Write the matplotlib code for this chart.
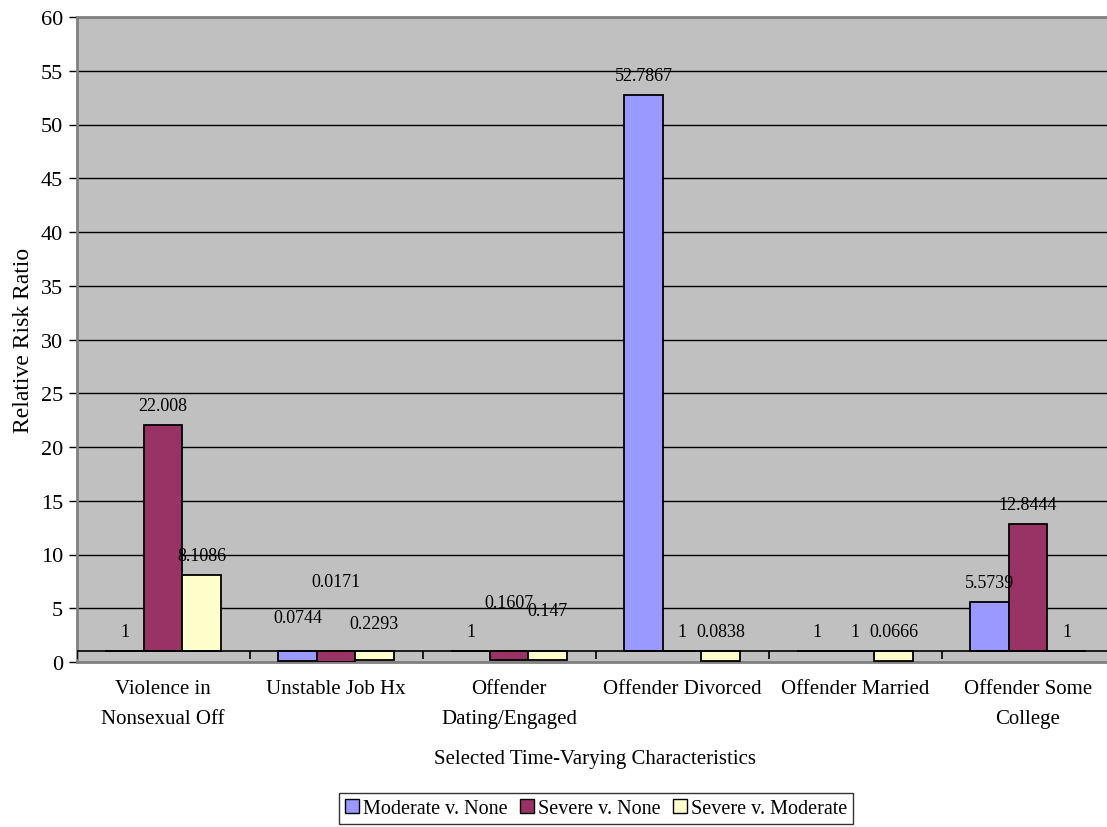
import numpy as np
import matplotlib.pyplot as plt
from matplotlib.patches import Patch

plt.rcParams['font.family'] = ['Liberation Serif', 'DejaVu Serif']

categories = ['Violence in\nNonsexual Off', 'Unstable Job Hx', 'Offender\nDating/Engaged',
              'Offender Divorced', 'Offender Married', 'Offender Some\nCollege']
series_names = ['Moderate v. None', 'Severe v. None', 'Severe v. Moderate']
moderate_v_none = [1, 0.0744, 1, 52.7867, 1, 5.5739]
severe_v_none = [22.008, 0.0171, 0.1607, 1, 1, 12.8444]
severe_v_moderate = [8.1086, 0.2293, 0.147, 0.0838, 0.0666, 1]
label_texts = [['1', '0.0744', '1', '52.7867', '1', '5.5739'],
               ['22.008', '0.0171', '0.1607', '1', '1', '12.8444'],
               ['8.1086', '0.2293', '0.147', '0.0838', '0.0666', '1']]

# extra lift (points) of a few labels that Excel pushed up to avoid overlap
label_lift = [[0, 10, 0, 0, 0, 0],
              [0, 36, 21, 0, 0, 0],
              [0, 6, 15, 0, 0, 0]]

colors = ['#9999FF', '#993366', '#FFFFCC']
baseline = 1  # category axis crosses the value axis at 1

fig = plt.figure(figsize=(11.07, 8.28), dpi=100)
ax = fig.add_axes([76.5 / 1107, 1 - 663 / 828, 1038 / 1107, 645 / 828])
ax.set_facecolor('#C0C0C0')

x = np.arange(len(categories))
width = 0.2225
all_series = [moderate_v_none, severe_v_none, severe_v_moderate]
for i, vals in enumerate(all_series):
    vals = np.array(vals, dtype=float)
    pos = x + (i - 1) * width
    ax.bar(pos, vals - baseline, bottom=baseline, width=width, color=colors[i],
           edgecolor='black', linewidth=1.3, zorder=3)
    for j, v in enumerate(vals):
        ax.annotate(label_texts[i][j], (pos[j], max(v, baseline)),
                    xytext=(0, 14 + label_lift[i][j]), textcoords='offset points',
                    ha='center', va='center', fontsize=13, zorder=4)

ax.set_ylim(0, 60)
ax.set_xlim(-0.5, len(categories) - 0.5)
ax.set_yticks(np.arange(0, 61, 5))
ax.yaxis.grid(True, color='black', linewidth=1.0, zorder=1)
ax.set_axisbelow(True)
ax.axhline(baseline, color='black', linewidth=1.2, zorder=3)

# category separators hanging below the crossing line
ax.vlines(np.arange(len(categories) + 1) - 0.5, 0.3, baseline, color='black',
          linewidth=1.2, zorder=3)

ax.set_xticks(x)
ax.set_xticklabels(categories, fontsize=15, linespacing=1.8)
ax.tick_params(axis='x', length=0, pad=12)
ax.tick_params(axis='y', labelsize=16, length=6, width=1, direction='out', color='black')

for side in ['left', 'bottom', 'top']:
    ax.spines[side].set_color('#808080')
    ax.spines[side].set_linewidth(2)
ax.spines['right'].set_visible(False)

ax.set_ylabel('Relative Risk Ratio', fontsize=17, labelpad=5)
ax.set_xlabel('Selected Time-Varying Characteristics', fontsize=15, labelpad=15)

handles = [Patch(facecolor=c, edgecolor='black', linewidth=1) for c in colors]
leg = fig.legend(handles, series_names, loc='upper center', ncol=3,
                 bbox_to_anchor=(596 / 1107, 1 - 794 / 828), fontsize=14.5,
                 frameon=True, fancybox=False, handlelength=0.7, handleheight=0.7,
                 handletextpad=0.2, columnspacing=0.6, borderpad=0.3, borderaxespad=0)
leg.get_frame().set_edgecolor('black')
leg.get_frame().set_linewidth(1)

fig.savefig('out.png', dpi=100)
